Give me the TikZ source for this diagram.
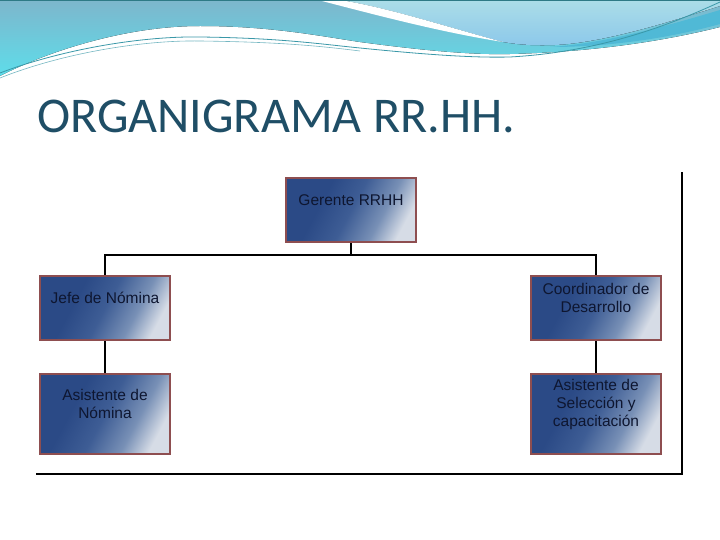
\documentclass[tikz,border=0pt]{standalone}
\usepackage{fontspec}
\setsansfont{Liberation Sans}
\newfontfamily\titlefont{Carlito}
\usetikzlibrary{calc,shadings}

\definecolor{bordecargo}{HTML}{8E4E50}
\definecolor{azuloscuro}{HTML}{2B4A86}
\definecolor{azulcentro}{HTML}{3E5D95}
\definecolor{azulmedio}{HTML}{7890B6}
\definecolor{grisclaro}{HTML}{D6DCE6}
\definecolor{textocargo}{HTML}{0E1630}
\definecolor{titulo}{HTML}{1F4E66}
\definecolor{ondaalta}{HTML}{7DB6CC}
\definecolor{ondabaja}{HTML}{5EDDEA}
\definecolor{cielo}{HTML}{ABDDE8}
\definecolor{cielobajo}{HTML}{8CC8EA}
\definecolor{franja}{HTML}{50B9D6}
\definecolor{hilo}{HTML}{3A98A8}

\pgfdeclarehorizontalshading{fondocargo}{100bp}{color(0bp)=(azuloscuro);
  color(36bp)=(azuloscuro); color(50bp)=(azulcentro); color(64bp)=(azulmedio);
  color(75bp)=(grisclaro); color(100bp)=(grisclaro)}

\begin{document}
\begin{tikzpicture}[x=1pt, y=-1pt,
    cargo/.style={draw=bordecargo, line width=2.8pt, minimum width=130pt,
      minimum height=64pt, inner sep=0pt, shading=fondocargo, shading angle=-28},
    rotulo/.style={align=center, text=textocargo, yshift=10pt,
      font=\sffamily\fontsize{15.5}{18}\selectfont},
    conn/.style={line width=1.2pt, black}]
    \fill[white] (0,0) rectangle (720,540);
    \useasboundingbox (0,0) rectangle (720,540);
    \fill[top color=ondaalta, bottom color=ondabaja] (0,0) -- (720,0) -- (720,27)
      .. controls (660,42) and (590,52) .. (510,54)
      .. controls (470,55) and (420,50) .. (360,42)
      .. controls (320,36) and (270,26) .. (200,26)
      .. controls (120,26) and (40,55) .. (0,76) -- cycle;
    \fill[top color=cielo, bottom color=cielobajo] (340,0) -- (720,0) -- (720,6)
      .. controls (660,25) and (600,43) .. (555,45)
      .. controls (530,46) and (515,44) .. (503,42)
      .. controls (450,28) and (390,8) .. (340,0) -- cycle;
    \fill[white] (318,0) -- (340,0) .. controls (390,8) and (450,28) .. (503,42)
      .. controls (440,32) and (380,16) .. (318,0) -- cycle;
    \fill[franja] (720,10) .. controls (660,28) and (600,44) .. (550,47)
      .. controls (610,47) and (670,38) .. (720,24) -- cycle;
    \draw[hilo, line width=0.8pt] (0,73) .. controls (60,50) and (140,36) .. (200,37)
      .. controls (280,38) and (320,44) .. (360,48)
      .. controls (420,54) and (470,58) .. (510,57)
      .. controls (600,52) and (670,25) .. (720,2);
    \draw[hilo!70, line width=0.6pt] (0,78) .. controls (60,54) and (140,40) .. (200,41)
      .. controls (280,42) and (320,46) .. (360,51);
    \draw[hilo!80!black, line width=1pt] (0,0.5) -- (720,0.5);

    \node[anchor=base west, inner sep=0pt, text=titulo,
      font=\titlefont\fontsize{50}{60}\selectfont] (titulo) at (37,133) {ORGANIGRAMA RR.HH.};

    \coordinate (marcoA) at (36,474);
    \coordinate (marcoB) at (682,474);
    \coordinate (marcoC) at (682,172);
    \draw[conn] (marcoA) -- (marcoB) -- (marcoC);

    \node[cargo, label={[rotulo]center:Gerente RRHH}] (gerente) at (351,210) {};
    \node[cargo, label={[rotulo]center:Jefe de Nómina}] (jefe) at (105,308) {};
    \node[cargo, label={[rotulo]center:Coordinador de\\Desarrollo}] (coord) at (596,308) {};
    \node[cargo, minimum height=80pt,
      label={[rotulo]center:Asistente de\\Nómina}] (asisnom) at (105,414) {};
    \node[cargo, minimum height=80pt,
      label={[rotulo]center:Asistente de\\Selección y\\capacitación}] (asissel) at (596,414) {};

    \coordinate (bus) at (351,255);
    \draw[conn] (gerente) -- (bus);
    \draw[conn] (bus) -| (jefe);
    \draw[conn] (bus) -| (coord);
    \draw[conn] (jefe) -- (asisnom);
    \draw[conn] (coord) -- (asissel);
  \end{tikzpicture}
\end{document}
